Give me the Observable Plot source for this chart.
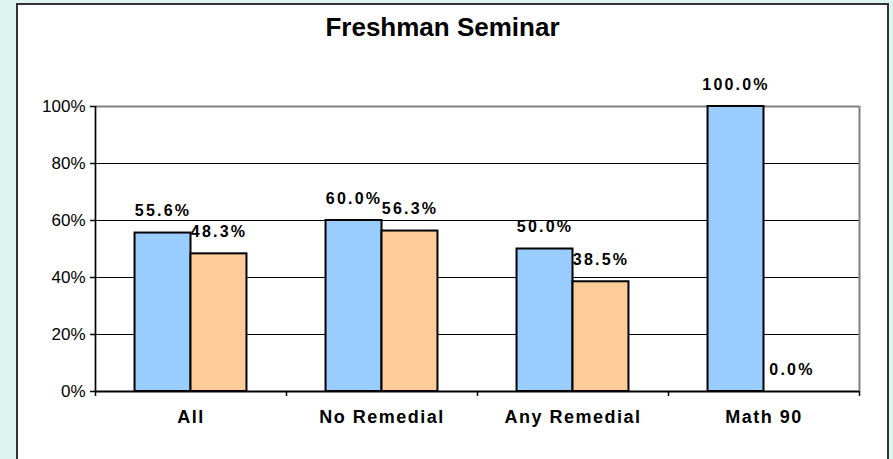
<!DOCTYPE html>
<html>
<head>
<meta charset="utf-8">
<script src="https://cdn.jsdelivr.net/npm/d3@7"></script>
<script src="https://cdn.jsdelivr.net/npm/@observablehq/plot@0.6"></script>
<style>
  html, body { margin: 0; padding: 0; }
  body { width: 893px; height: 459px; overflow: hidden; background: #ddf5f0; position: relative;
         font-family: "Liberation Sans", Arial, sans-serif; }
  #box { position: absolute; left: 16px; top: 3px; width: 869px; height: 520px;
         background: #ffffff; border: 2px solid #333333; }
  #title { position: absolute; left: 0; top: 12px; width: 885px; text-align: center;
           font-size: 26px; line-height: 30px; font-weight: bold; color: #000; }
  #chart { position: absolute; left: 0; top: 0; }
  #chart svg { overflow: visible; }
  #chart g[aria-label="text"][font-size="16"] text { letter-spacing: 2.2px; }
  #chart g[aria-label="text"][font-size="18"] text { letter-spacing: 1.5px; }
</style>
</head>
<body>
<div id="box"></div>
<div id="title">Freshman Seminar</div>
<div id="chart"></div>
<script>
// ---- data ----
const categories = ["All", "No Remedial", "Any Remedial", "Math 90"];
const blueValues = [0.556, 0.600, 0.500, 1.000];
const orangeValues = [0.483, 0.563, 0.385, 0.000];
const yTicks = [0, 0.2, 0.4, 0.6, 0.8, 1.0];

// ---- styling constants ----
const blueColor = "#99ccff";
const orangeColor = "#ffcc99";
const barWidth = 0.293; // fraction of a category slot

const blueBars = categories.map((c, i) => ({category: c, x1: i + 0.5 - barWidth, x2: i + 0.5, value: blueValues[i]}));
const orangeBars = categories.map((c, i) => ({category: c, x1: i + 0.5, x2: i + 0.5 + barWidth, value: orangeValues[i]}));
const fmt = d3.format(".1%");
const slotEdges = d3.range(categories.length + 1);

const chart = Plot.plot({
  width: 893,
  height: 459,
  marginLeft: 95,
  marginRight: 34,
  marginTop: 106,
  marginBottom: 68,
  x: {domain: [0, categories.length], axis: null},
  y: {domain: [0, 1], axis: null},
  style: {background: "transparent", fontFamily: "'Liberation Sans', Arial, sans-serif", color: "#000"},
  marks: [
    Plot.ruleY(yTicks.slice(1, -1), {stroke: "#000", strokeWidth: 1}),
    Plot.ruleY([1], {stroke: "#808080", strokeWidth: 2}),
    Plot.ruleX([categories.length], {stroke: "#808080", strokeWidth: 2}),
    Plot.rectY(blueBars, {x1: "x1", x2: "x2", y: "value", fill: blueColor, stroke: "#000", strokeWidth: 2}),
    Plot.rectY(orangeBars, {x1: "x1", x2: "x2", y: "value", fill: orangeColor, stroke: "#000", strokeWidth: 2}),
    Plot.ruleX([0], {stroke: "#000", strokeWidth: 1.7}),
    Plot.ruleY([0], {stroke: "#000", strokeWidth: 2.2}),
    Plot.axisX({ticks: slotEdges, tickSize: 5, tickFormat: () => "", label: null, strokeWidth: 1.5}),
    Plot.axisY({ticks: yTicks, tickFormat: "%", tickSize: 5, tickPadding: 5, fontSize: 17, label: null, strokeWidth: 1.5}),
    Plot.text(categories, {x: (d, i) => i + 0.5, text: d => d, frameAnchor: "bottom", dy: 31,
      fontWeight: "bold", fontSize: 18, fill: "#000"}),
    Plot.text(blueBars, {x: d => (d.x1 + d.x2) / 2, y: "value", text: d => fmt(d.value), dy: -22,
      fontWeight: "bold", fontSize: 16, fill: "#000"}),
    Plot.text(orangeBars, {x: d => (d.x1 + d.x2) / 2, y: "value", text: d => fmt(d.value), dy: -22,
      fontWeight: "bold", fontSize: 16, fill: "#000"})
  ]
});
document.getElementById("chart").appendChild(chart);
</script>
</body>
</html>
